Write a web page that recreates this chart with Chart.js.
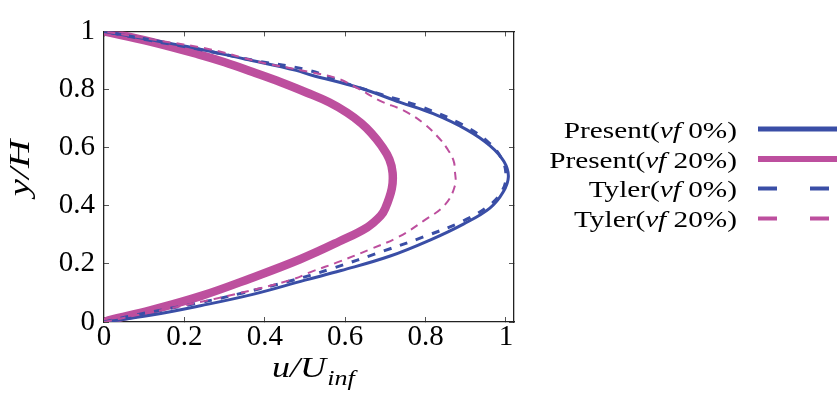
<!DOCTYPE html>
<html><head><meta charset="utf-8">
<script src="https://cdn.jsdelivr.net/npm/chart.js@4/dist/chart.umd.min.js"></script>
<style>html,body{margin:0;padding:0;background:#fff}#wrap{width:837px;height:394px}</style>
</head><body><div id="wrap"><canvas id="c" width="837" height="394"></canvas></div>
<script>
// ---- data ----
const seriesLabels = ['Present(vf 0%)', 'Present(vf 20%)', 'Tyler(vf 0%)', 'Tyler(vf 20%)'];
const xTickValues = [0, 0.2, 0.4, 0.6, 0.8, 1];
const yTickValues = [0, 0.2, 0.4, 0.6, 0.8, 1];

const present0Y = [0, 0.023, 0.056, 0.095, 0.144, 0.177, 0.227, 0.282, 0.337, 0.392, 0.447, 0.50, 0.552, 0.607, 0.662, 0.717, 0.756, 0.806, 0.85, 0.866, 0.905, 0.943, 0.971, 1];
const present0X = [0, 0.115, 0.24, 0.37, 0.50, 0.59, 0.712, 0.811, 0.894, 0.96, 0.993, 1.006, 0.995, 0.96, 0.902, 0.819, 0.737, 0.635, 0.515, 0.478, 0.35, 0.225, 0.115, 0];

const present20Y = [0, 0.007, 0.04, 0.089, 0.15, 0.216, 0.277, 0.326, 0.365, 0.392, 0.459, 0.513, 0.56, 0.607, 0.65, 0.684, 0.72, 0.756, 0.789, 0.825, 0.86, 0.894, 0.921, 0.965, 1];
const present20X = [0, 0.016, 0.115, 0.24, 0.364, 0.488, 0.585, 0.655, 0.688, 0.70, 0.716, 0.718, 0.71, 0.69, 0.665, 0.64, 0.605, 0.56, 0.505, 0.44, 0.37, 0.30, 0.235, 0.115, 0];

const tyler0Y = [0, 0.023, 0.067, 0.10, 0.14, 0.183, 0.244, 0.293, 0.348, 0.403, 0.45, 0.50, 0.56, 0.62, 0.68, 0.74, 0.783, 0.82, 0.866, 0.90, 0.94, 0.97, 1];
const tyler0X = [0, 0.074, 0.24, 0.345, 0.46, 0.565, 0.695, 0.795, 0.894, 0.96, 0.99, 1.0, 0.99, 0.955, 0.89, 0.79, 0.69, 0.605, 0.51, 0.375, 0.23, 0.11, 0];

const tyler20Y = [0, 0.023, 0.06, 0.10, 0.144, 0.175, 0.205, 0.249, 0.293, 0.348, 0.403, 0.469, 0.52, 0.558, 0.60, 0.629, 0.684, 0.728, 0.761, 0.806, 0.839, 0.86, 0.894, 0.938, 0.97, 1];
const tyler20X = [0, 0.08, 0.21, 0.339, 0.463, 0.52, 0.58, 0.66, 0.733, 0.795, 0.848, 0.873, 0.873, 0.869, 0.852, 0.836, 0.795, 0.745, 0.687, 0.629, 0.579, 0.513, 0.389, 0.265, 0.13, 0];

// ---- styling ----
const BLUE = '#3a4ea6';
const PINK = '#bd4f9e';
const SERIF = '"Liberation Serif", "Times New Roman", serif';

function pts(xs, ys) { return xs.map((x, i) => ({ x: x, y: ys[i] })); }

const datasets = [
  { label: seriesLabels[0], data: pts(present0X, present0Y), borderColor: BLUE, borderWidth: 3, order: 2 },
  { label: seriesLabels[1], data: pts(present20X, present20Y), borderColor: PINK, borderWidth: 8.5, order: 3 },
  { label: seriesLabels[2], data: pts(tyler0X, tyler0Y), borderColor: BLUE, borderWidth: 3, borderDash: [8, 9], order: 1 },
  { label: seriesLabels[3], data: pts(tyler20X, tyler20Y), borderColor: PINK, borderWidth: 2, borderDash: [8, 6], order: 0 }
];
datasets.forEach(d => { d.showLine = true; d.pointRadius = 0; d.tension = 0.4; d.fill = false; d.borderCapStyle = 'butt'; d.borderJoinStyle = 'round'; });

const legendStyle = [
  { w: 5, dash: [] , y: 129 },
  { w: 6, dash: [], y: 159 },
  { w: 4, dash: [19, 33], y: 188.5 },
  { w: 4, dash: [19, 33], y: 218.5 }
];

function drawRich(ctx, parts, xRight, baseline, size, sx) {
  ctx.save();
  ctx.translate(xRight, baseline);
  ctx.scale(sx, 1);
  let total = 0;
  parts.forEach(p => { ctx.font = (p.it ? 'italic ' : '') + size + 'px ' + SERIF; p.w = ctx.measureText(p.t).width; total += p.w; });
  let x = -total;
  ctx.textBaseline = 'alphabetic';
  ctx.textAlign = 'left';
  parts.forEach(p => { ctx.font = (p.it ? 'italic ' : '') + size + 'px ' + SERIF; ctx.fillText(p.t, x, p.dy || 0); x += p.w; });
  ctx.restore();
}

const decor = {
  id: 'decor',
  afterDraw(chart) {
    const ctx = chart.ctx;
    ctx.save();
    ctx.fillStyle = '#000';
    // y axis title
    ctx.save();
    ctx.translate(29, 168);
    ctx.rotate(-Math.PI / 2);
    ctx.scale(1.3, 1);
    ctx.font = 'italic 30px ' + SERIF;
    ctx.textAlign = 'center';
    ctx.textBaseline = 'alphabetic';
    ctx.fillText('y/H', 0, 0);
    ctx.restore();
    // x axis title u/U_inf
    ctx.save();
    ctx.translate(272, 377);
    ctx.scale(1.24, 1);
    ctx.font = 'italic 29px ' + SERIF;
    ctx.textAlign = 'left';
    ctx.fillText('u/U', 0, 0);
    const w = ctx.measureText('u/U').width;
    ctx.font = 'italic 21px ' + SERIF;
    ctx.fillText('inf', w + 1, 8);
    ctx.restore();
    // legend
    chart.data.datasets.forEach((ds, i) => {
      const st = legendStyle[i];
      const lab = ds.label;
      const k = lab.indexOf('vf');
      const parts = [{ t: lab.slice(0, k) }, { t: 'vf', it: true }, { t: lab.slice(k + 2) }];
      ctx.fillStyle = '#000';
      drawRich(ctx, parts, 737, st.y + 8.5, 24, 1.22);
      ctx.beginPath();
      ctx.setLineDash(st.dash);
      ctx.lineWidth = st.w;
      ctx.strokeStyle = ds.borderColor;
      ctx.moveTo(758, st.y);
      ctx.lineTo(850, st.y);
      ctx.stroke();
      ctx.setLineDash([]);
    });
    ctx.restore();
  }
};

function setTicks(vals) { return s => { s.ticks = vals.map(v => ({ value: v })); }; }

const tickFont = { family: SERIF, size: 29 };
const gridOpts = { drawOnChartArea: false, tickLength: -5, color: '#555', tickWidth: 1 };
const borderOpts = { color: '#222', width: 1.3 };

new Chart(document.getElementById('c'), {
  type: 'scatter',
  data: { datasets: datasets },
  options: {
    responsive: false,
    animation: false,
    devicePixelRatio: 1,
    layout: { padding: { left: 0, right: 323, top: 20, bottom: 0 } },
    plugins: { legend: { display: false }, tooltip: { enabled: false } },
    scales: {
      x: {
        type: 'linear', position: 'bottom', min: 0, max: 1.02,
        afterBuildTicks: setTicks(xTickValues),
        afterFit: s => { s.height = 72; },
        ticks: { font: tickFont, color: '#000', padding: 3, maxRotation: 0, callback: v => String(v) },
        grid: gridOpts, border: borderOpts
      },
      x2: {
        type: 'linear', position: 'top', min: 0, max: 1.02,
        afterBuildTicks: setTicks(xTickValues),
        afterFit: s => { s.height = 0; },
        ticks: { display: false },
        grid: gridOpts, border: borderOpts
      },
      y: {
        type: 'linear', position: 'left', min: 0, max: 1,
        afterBuildTicks: setTicks(yTickValues),
        afterFit: s => { s.width = 104; },
        ticks: { font: tickFont, color: '#000', padding: 14, callback: v => String(v) },
        grid: gridOpts, border: borderOpts
      },
      y2: {
        type: 'linear', position: 'right', min: 0, max: 1,
        afterBuildTicks: setTicks(yTickValues),
        afterFit: s => { s.width = 0; },
        ticks: { display: false },
        grid: gridOpts, border: borderOpts
      }
    }
  },
  plugins: [decor]
});
</script>
</body></html>
